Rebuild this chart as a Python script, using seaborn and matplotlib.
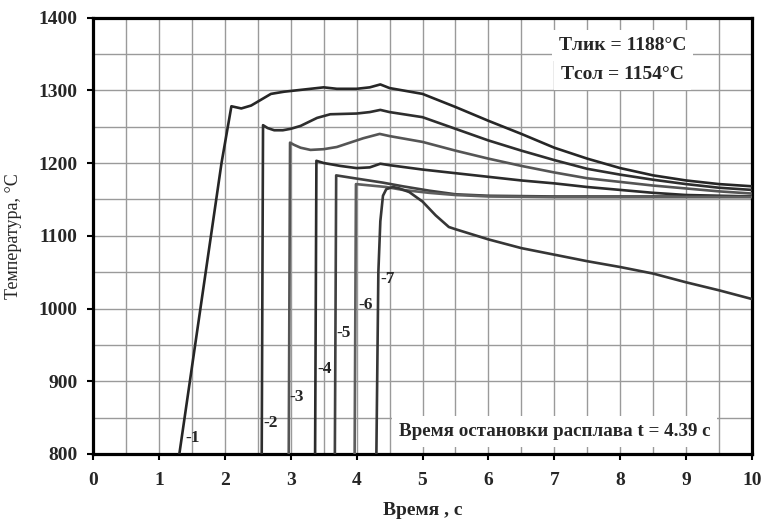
import matplotlib
matplotlib.use("Agg")
import matplotlib.pyplot as plt
import seaborn as sns
import numpy as np
import pandas as pd
from matplotlib.ticker import MultipleLocator

# cooling curves: time (s) and temperature (C)
t1 = [1.31, 1.47, 1.63, 1.79, 1.95, 2.10, 2.15, 2.25, 2.40, 2.55, 2.70, 2.90, 3.20, 3.50, 3.70, 4.00, 4.20, 4.36,
      4.50, 5.0, 5.5, 6.0, 6.5, 7.0, 7.5, 8.0, 8.5, 9.0, 9.5, 10.0]
T1 = [800, 900, 1000, 1100, 1200, 1278, 1277, 1275, 1279, 1287, 1295, 1298, 1301, 1304, 1302, 1302, 1304, 1308,
      1303, 1295, 1277, 1258, 1240, 1221, 1206, 1193, 1183, 1176, 1171, 1168]

t2 = [2.56, 2.58, 2.65, 2.75, 2.88, 3.00, 3.15, 3.40, 3.60, 4.00, 4.20, 4.36,
      4.50, 5.0, 5.5, 6.0, 6.5, 7.0, 7.5, 8.0, 8.5, 9.0, 9.5, 10.0]
T2 = [800, 1252, 1248, 1245, 1245, 1247, 1251, 1262, 1267, 1268, 1270, 1273,
      1270, 1263, 1247, 1231, 1217, 1204, 1192, 1184, 1177, 1171, 1166, 1163]

t3 = [2.97, 2.99, 3.05, 3.15, 3.30, 3.50, 3.70, 3.90, 4.10, 4.35,
      4.50, 5.0, 5.5, 6.0, 6.5, 7.0, 7.5, 8.0, 8.5, 9.0, 9.5, 10.0]
T3 = [800, 1228, 1225, 1221, 1218, 1219, 1222, 1228, 1234, 1240,
      1237, 1229, 1217, 1206, 1196, 1187, 1179, 1174, 1169, 1165, 1161, 1158]

t4 = [3.37, 3.39, 3.50, 3.75, 4.00, 4.20, 4.36, 4.50, 5.0, 5.5, 6.0, 6.5, 7.0, 7.5, 8.0, 8.5, 9.0, 9.5, 10.0]
T4 = [800, 1203, 1200, 1196, 1193, 1194, 1199, 1197, 1191, 1186, 1181, 1176, 1172, 1167, 1163, 1159, 1156, 1155, 1154]

t5 = [3.67, 3.69, 3.90, 4.40, 4.70, 5.1, 5.5, 6.0, 7.0, 8.0, 9.0, 10.0]
T5 = [800, 1183, 1180, 1173, 1168, 1162, 1157, 1155, 1154, 1154, 1154, 1154]

t6 = [3.97, 3.99, 4.45, 4.70, 5.1, 5.5, 6.0, 7.0, 8.0, 9.0, 10.0]
T6 = [800, 1171, 1167, 1163, 1159, 1156, 1154, 1153, 1153, 1153, 1153]

t7 = [4.30, 4.33, 4.36, 4.40, 4.45, 4.55, 4.65, 4.80, 5.0, 5.2, 5.4, 5.5, 6.0, 6.5, 7.0, 7.5, 8.0, 8.5, 9.0, 9.5, 10.0]
T7 = [800, 1050, 1120, 1155, 1164, 1167, 1165, 1160, 1147, 1128, 1112, 1109, 1095, 1083, 1074, 1065, 1057, 1048,
      1036, 1025, 1013]

curve_ids = ["1", "2", "3", "4", "5", "6", "7"]
curve_colors = ["#262626", "#2e2e2e", "#555555", "#2b2b2b", "#404040", "#5e5e5e", "#363636"]
# label anchors (left edge, vertical centre)
label_x = [1.40, 2.58, 2.98, 3.41, 3.70, 4.02, 4.36]
label_y = [822, 843, 878, 917, 966, 1005, 1041]

frames = []
for cid, t, T in zip(curve_ids, [t1, t2, t3, t4, t5, t6, t7], [T1, T2, T3, T4, T5, T6, T7]):
    frames.append(pd.DataFrame({"t": t, "T": T, "curve": cid}))
df = pd.concat(frames, ignore_index=True)

sns.set_style("white")
plt.rcParams['font.family'] = ['Liberation Serif', 'DejaVu Serif']

fig = plt.figure(figsize=(7.63, 5.21), dpi=100)
ax = fig.add_axes([0.1219, 0.1286, 0.8637, 0.8378])

sns.lineplot(data=df, x="t", y="T", hue="curve", palette=curve_colors,
             sort=False, estimator=None, legend=False, linewidth=1.9, ax=ax, zorder=3)

ax.set_xlim(0, 10)
ax.set_ylim(800, 1400)
ax.xaxis.set_major_locator(MultipleLocator(1))
ax.xaxis.set_minor_locator(MultipleLocator(0.5))
ax.yaxis.set_major_locator(MultipleLocator(100))
ax.yaxis.set_minor_locator(MultipleLocator(50))
ax.grid(which="both", color="#9a9a9a", linewidth=1.0)
ax.set_axisbelow(True)

for s in ax.spines.values():
    s.set_linewidth(2.3)
    s.set_color("black")

ax.tick_params(which="major", direction="out", length=4, width=1.5, color="black",
               labelsize=14, left=True, bottom=True)
ax.tick_params(which="minor", length=0)
ax.tick_params(axis="y", pad=7)
ax.tick_params(axis="x", pad=9)
for lab in ax.get_xticklabels() + ax.get_yticklabels():
    lab.set_fontweight("bold")

ax.set_xlabel("Время , с", fontsize=14, fontweight="bold", labelpad=9)
ax.set_ylabel("Температура, °C", fontsize=13, labelpad=12)

for cid, lx, ly in zip(curve_ids, label_x, label_y):
    ax.text(lx, ly, "-" + cid, fontsize=12.5, fontweight="bold", ha="left", va="center", zorder=4)

ax.text(8.03, 1362, "Tлик = 1188°C", fontsize=14, fontweight="bold",
        ha="center", va="center", zorder=5,
        bbox=dict(facecolor="white", edgecolor="none", pad=5))
ax.text(8.03, 1321, "Tсол = 1154°C", fontsize=14, fontweight="bold",
        ha="center", va="center", zorder=5,
        bbox=dict(facecolor="white", edgecolor="none", pad=5))
ax.text(7.0, 831, "Время остановки расплава t = 4.39 с", fontsize=13.7, fontweight="bold",
        ha="center", va="center", zorder=5,
        bbox=dict(facecolor="white", edgecolor="none", pad=5))

fig.savefig("out.png", dpi=100)
